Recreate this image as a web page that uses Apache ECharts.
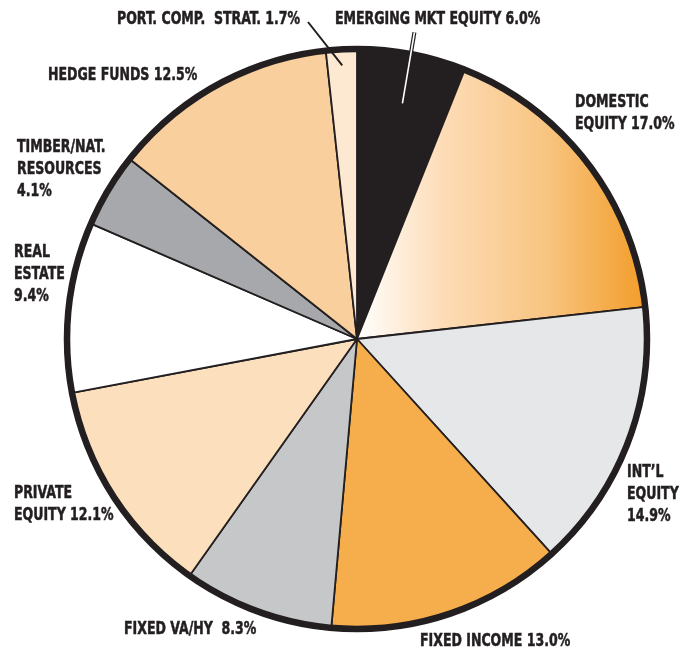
<!DOCTYPE html>
<html>
<head>
<meta charset="utf-8">
<script src="https://cdn.jsdelivr.net/npm/echarts@6/dist/echarts.min.js"></script>
<style>
  html, body { margin: 0; padding: 0; background: #fff; }
  #chart { width: 691px; height: 651px; }
</style>
</head>
<body>
<div id="chart"></div>
<script>
// allocation data, clockwise from 12 o'clock
const categories = [
  'EMERGING MKT EQUITY', 'DOMESTIC\nEQUITY', 'INT\u2019L\nEQUITY', 'FIXED INCOME',
  'FIXED VA/HY', 'PRIVATE\nEQUITY', 'REAL\nESTATE', 'TIMBER/NAT.\nRESOURCES',
  'HEDGE FUNDS', 'PORT. COMP.  STRAT.'
];
const shares = [6.0, 17.0, 14.9, 13.0, 8.3, 12.1, 9.4, 4.1, 12.5, 1.7];
const valueSep = [' ', ' ', '\n', ' ', '  ', ' ', '\n', '\n', ' ', ' '];

const sliceColors = [
  '#231f20', null, '#e6e7e8', '#f6ae4d', '#c6c7c9',
  '#fcdfbd', '#ffffff', '#a6a8ab', '#f9cf9d', '#fde8d2'
];
// top-left corner of each label
const labelPos = [
  [335, 9], [575, 92], [627, 462], [420, 631], [124, 619],
  [14, 483], [14, 242], [17, 137], [48, 65], [117, 9]
];
const labelSize = [17, 17, 17, 17, 17, 17, 17, 17, 17, 17];

const CX = 357, CY = 339, R = 290;
const INK = '#231f20';
const FONT = '"DejaVu Sans Condensed", "DejaVu Sans", sans-serif';

const total = shares.reduce((a, b) => a + b, 0);
function midAngle(i) {
  const before = shares.slice(0, i).reduce((a, b) => a + b, 0);
  return (before + shares[i] / 2) / total * 360;
}
function polar(deg, r) {
  const a = deg * Math.PI / 180;
  return [CX + r * Math.sin(a), CY - r * Math.cos(a)];
}

const chart = echarts.init(document.getElementById('chart'));

const domesticGradient = new echarts.graphic.LinearGradient(0, 0, 1, 0, [
  { offset: 0, color: '#ffffff' },
  { offset: 0.3, color: '#fddcb6' },
  { offset: 0.65, color: '#f8c582' },
  { offset: 1, color: '#f29d28' }
]);

const pieData = categories.map((name, i) => ({
  name,
  value: shares[i],
  itemStyle: { color: i === 1 ? domesticGradient : sliceColors[i] }
}));

// condensed labels (text squeezed horizontally like the original type)
const labels = categories.map((name, i) => ({
  type: 'text',
  z: 100,
  x: labelPos[i][0],
  y: labelPos[i][1],
  scaleX: 0.82,
  style: {
    text: name + valueSep[i] + shares[i].toFixed(1) + '%',
    fill: INK,
    stroke: INK,
    lineWidth: 0.5,
    font: 'bold ' + labelSize[i] + 'px ' + FONT,
    lineHeight: 22,
    align: 'left',
    verticalAlign: 'top'
  }
}));

const emA = polar(midAngle(0), 240), emB = polar(midAngle(0) - 0.3, 312);
const pcA = polar(midAngle(9), 274);
const pcB = [308, 22];

chart.setOption({
  animation: false,
  series: [
    {
      type: 'pie',
      center: [CX, CY],
      radius: R,
      startAngle: 90,
      clockwise: true,
      silent: true,
      data: pieData,
      itemStyle: { borderColor: INK, borderWidth: 1.8 },
      label: { show: false },
      labelLine: { show: false }
    },
    {
      // heavy outer rim
      type: 'pie',
      center: [CX, CY],
      radius: R,
      silent: true,
      data: [{ value: 1 }],
      itemStyle: { color: 'rgba(0,0,0,0)', borderColor: INK, borderWidth: 6.5 },
      label: { show: false },
      labelLine: { show: false }
    }
  ],
  graphic: labels.concat([
    { type: 'line', z: 100, shape: { x1: emA[0], y1: emA[1], x2: emB[0], y2: emB[1] },
      style: { stroke: INK, lineWidth: 4 } },
    { type: 'line', z: 101, shape: { x1: emA[0], y1: emA[1], x2: emB[0], y2: emB[1] },
      style: { stroke: '#ffffff', lineWidth: 1.6 } },
    { type: 'line', z: 100, shape: { x1: pcA[0], y1: pcA[1], x2: pcB[0], y2: pcB[1] },
      style: { stroke: INK, lineWidth: 2 } }
  ])
});

window.addEventListener('resize', () => chart.resize());
</script>
</body>
</html>
